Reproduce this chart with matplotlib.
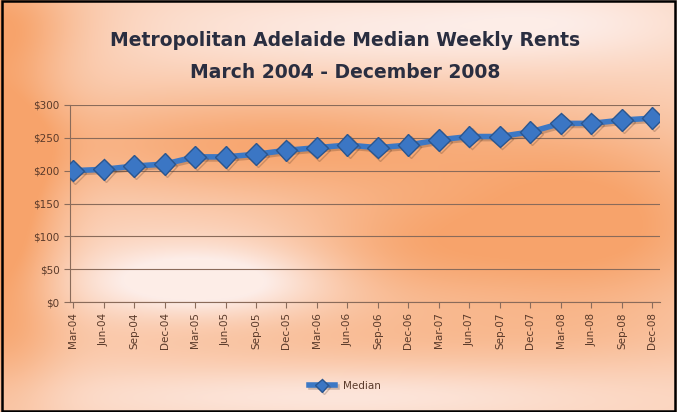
import numpy as np
import matplotlib
matplotlib.use("Agg")
import matplotlib.pyplot as plt
from matplotlib.colors import to_rgb
import matplotlib.patheffects as pe

categories = ["Mar-04", "Jun-04", "Sep-04", "Dec-04", "Mar-05", "Jun-05", "Sep-05", "Dec-05",
              "Mar-06", "Jun-06", "Sep-06", "Dec-06", "Mar-07", "Jun-07", "Sep-07", "Dec-07",
              "Mar-08", "Jun-08", "Sep-08", "Dec-08"]
median = [200, 202, 207, 210, 221, 221, 225, 231, 235, 239, 235, 239, 247, 252, 252, 259,
          272, 272, 277, 280]
y_ticks = [0, 50, 100, 150, 200, 250, 300]
y_labels = ["$0", "$50", "$100", "$150", "$200", "$250", "$300"]

W, H = 677, 412
fig = plt.figure(figsize=(W / 100, H / 100), dpi=100)

# background gradient (decorative)
yy, xx = np.mgrid[0:H, 0:W] / np.array([H, W])[:, None, None]
def blob(cx, cy, sx, sy, a=1.0):
    return a * np.exp(-(((xx - cx) / sx) ** 2 + ((yy - cy) / sy) ** 2))
inten = (0.35
         + blob(0.0, 0.5, 0.09, 0.45, 0.8) + blob(0.0, 0.05, 0.15, 0.12, 0.4)
         + blob(0.4, 0.35, 0.4, 0.13, 0.6) + blob(0.88, 0.55, 0.22, 0.22, 0.7)
         + blob(0.6, 0.6, 0.18, 0.15, 0.45) + blob(0.55, 0.82, 0.5, 0.08, 0.25))
inten -= (blob(0.3, 0.68, 0.17, 0.08, 0.6) + blob(0.55, 0.07, 0.35, 0.1, 0.3)
          + blob(0.5, 0.96, 0.4, 0.06, 0.25) + blob(0.85, 0.05, 0.2, 0.1, 0.2))
inten = np.clip(inten, 0, 1)
c0 = np.array(to_rgb("#FDEDE8"))
c1 = np.array(to_rgb("#F7A46C"))
img = c0 + (c1 - c0) * inten[..., None]
bg = fig.add_axes([0, 0, 1, 1])
bg.imshow(img, aspect="auto", extent=[0, 1, 0, 1], zorder=0)
bg.set_axis_off()
bg.add_patch(plt.Rectangle((0.003, 0.003), 0.994, 0.994, fill=False, ec="black", lw=1.8,
                           transform=bg.transAxes))

ax = fig.add_axes([70 / W, 1 - 302 / H, 590 / W, 197 / H])
ax.patch.set_alpha(0)
x = np.arange(len(categories))
ax.plot(x, median, color="#3C78C5", lw=4, marker="D", ms=11, mfc="#3B76C4", mec="#2A5690",
        mew=1, zorder=3,
        path_effects=[pe.SimpleLineShadow(offset=(1.5, -1.5), shadow_color="#4a3020", alpha=0.25),
                      pe.Normal()])
ax.set_xlim(-0.1, 19.25)
ax.set_ylim(0, 300)
ax.set_yticks(y_ticks)
ax.set_yticklabels(y_labels)
ax.set_xticks(x)
ax.set_xticklabels(categories, rotation=90)
ax.grid(axis="y", color="#8A6B5A", lw=0.8)
ax.set_axisbelow(True)
for s in ["top", "right"]:
    ax.spines[s].set_visible(False)
for s in ["left", "bottom"]:
    ax.spines[s].set_color("#8A6B5A")
ax.tick_params(colors="#8A6B5A", labelcolor="#5A3A2A", labelsize=7.5, length=4)

fig.text(0.51, 1 - 40 / H, "Metropolitan Adelaide Median Weekly Rents", ha="center", va="center",
         fontsize=13.5, fontweight="bold", color="#2A2E40")
fig.text(0.51, 1 - 72 / H, "March 2004 - December 2008", ha="center", va="center",
         fontsize=13.5, fontweight="bold", color="#2A2E40")

leg = ax.legend(["Median"], loc="center", bbox_to_anchor=(345 / W, 1 - 386 / H),
                bbox_transform=fig.transFigure, frameon=False, fontsize=7.5, handlelength=2.5,
                markerscale=0.6)
for t in leg.get_texts():
    t.set_color("#5A3A2A")

fig.savefig("out.png", dpi=100)
